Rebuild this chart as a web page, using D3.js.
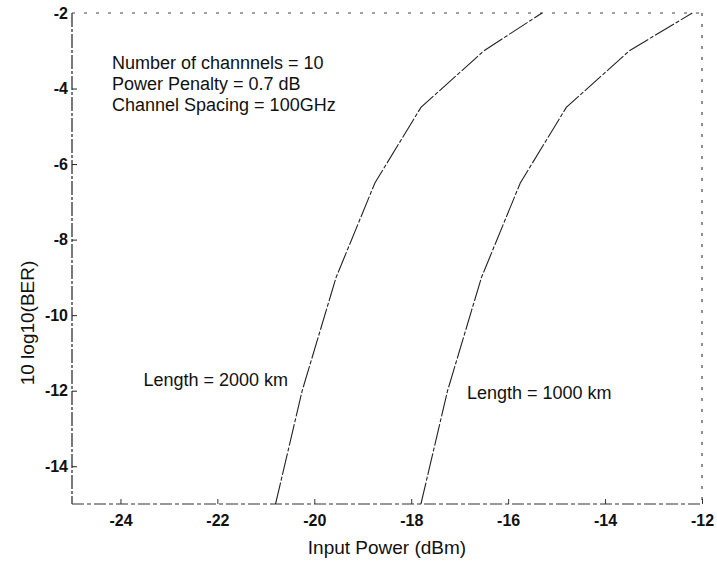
<!DOCTYPE html>
<head>
<meta charset="utf-8">
<style>
body { margin: 0; background: #fff; }
text { font-family: "Liberation Sans", Arial, sans-serif; fill: #111; }
.tick text { font-size: 16px; font-weight: bold; }
</style>
</head>
<body>
<script src="https://cdn.jsdelivr.net/npm/d3@7"></script>
<script>

// input power (dBm) at each BER level
var berLevels = [-15, -12, -9, -6.5, -4.5, -3, -2];
var power2000 = [-20.8, -20.25, -19.55, -18.75, -17.8, -16.5, -15.3];
var power1000 = [-17.8, -17.25, -16.55, -15.75, -14.8, -13.5, -12.2];

var xTicks = [-24, -22, -20, -18, -16, -14, -12];
var yTicks = [-14, -12, -10, -8, -6, -4, -2];

var notes = ["Number of channnels = 10", "Power Penalty = 0.7 dB", "Channel Spacing = 100GHz"];

var width = 717, height = 567;
var margin = {left: 72, right: 15, top: 13, bottom: 63};

var svg = d3.select("body").append("svg")
    .attr("width", width)
    .attr("height", height);

var x = d3.scaleLinear().domain([-25, -12]).range([margin.left, width - margin.right]);
var y = d3.scaleLinear().domain([-15, -2]).range([height - margin.bottom, margin.top]);

// box: left and bottom darker, top and right faint (scanned look)
svg.append("line")
    .attr("x1", x(-25)).attr("x2", x(-25)).attr("y1", y(-2)).attr("y2", y(-15))
    .style("stroke", "#222").style("stroke-width", 1.2)
    .style("stroke-dasharray", "14,2,3,2");
svg.append("line")
    .attr("x1", x(-25)).attr("x2", x(-12)).attr("y1", y(-15)).attr("y2", y(-15))
    .style("stroke", "#333").style("stroke-width", 1.2)
    .style("stroke-dasharray", "12,3,4,3");
svg.append("line")
    .attr("x1", x(-25)).attr("x2", x(-12)).attr("y1", y(-2)).attr("y2", y(-2))
    .style("stroke", "#444").style("stroke-width", 1)
    .style("stroke-dasharray", "3,9");
svg.append("line")
    .attr("x1", x(-12)).attr("x2", x(-12)).attr("y1", y(-2)).attr("y2", y(-15))
    .style("stroke", "#444").style("stroke-width", 1.2)
    .style("stroke-dasharray", "3,8");

var xAxis = svg.append("g")
    .attr("transform", "translate(0," + y(-15) + ")")
    .call(d3.axisBottom(x).tickValues(xTicks).tickSize(-5).tickPadding(11)
        .tickFormat(function(d) { return String(d); }));
xAxis.select(".domain").remove();
xAxis.selectAll(".tick line").style("stroke", "#333");

var yAxis = svg.append("g")
    .attr("transform", "translate(" + x(-25) + ",0)")
    .call(d3.axisLeft(y).tickValues(yTicks).tickSize(-5).tickPadding(4)
        .tickFormat(function(d) { return String(d); }));
yAxis.select(".domain").remove();
yAxis.selectAll(".tick line").style("stroke", "#222");
// -2 label sits at the top corner, without a tick
yAxis.selectAll(".tick").filter(function(d) { return d === -2; }).select("line").remove();

var line = d3.line()
    .x(function(d) { return x(d[0]); })
    .y(function(d) { return y(d[1]); });

[power2000, power1000].forEach(function(p) {
  svg.append("path")
      .datum(p.map(function(v, i) { return [v, berLevels[i]]; }))
      .attr("d", line)
      .style("fill", "none")
      .style("stroke", "#222")
      .style("stroke-width", 1.1)
      .style("stroke-dasharray", "22,2,4,2");
});

svg.selectAll(".note")
    .data(notes)
    .enter().append("text")
    .attr("class", "note")
    .attr("x", 112)
    .attr("y", function(d, i) { return 69 + i * 21; })
    .style("font-size", "18px")
    .text(function(d) { return d; });

svg.append("text")
    .attr("x", 288).attr("y", 386)
    .attr("text-anchor", "end")
    .style("font-size", "18px")
    .text("Length = 2000 km");

svg.append("text")
    .attr("x", 467).attr("y", 399)
    .style("font-size", "18px")
    .text("Length = 1000 km");

svg.append("text")
    .attr("x", (x(-25) + x(-12)) / 2).attr("y", 554)
    .attr("text-anchor", "middle")
    .style("font-size", "19px")
    .text("Input Power (dBm)");

svg.append("text")
    .attr("transform", "translate(34,323) rotate(-90)")
    .attr("text-anchor", "middle")
    .style("font-size", "19px")
    .text("10 log10(BER)");

</script>
</body>
</html>
